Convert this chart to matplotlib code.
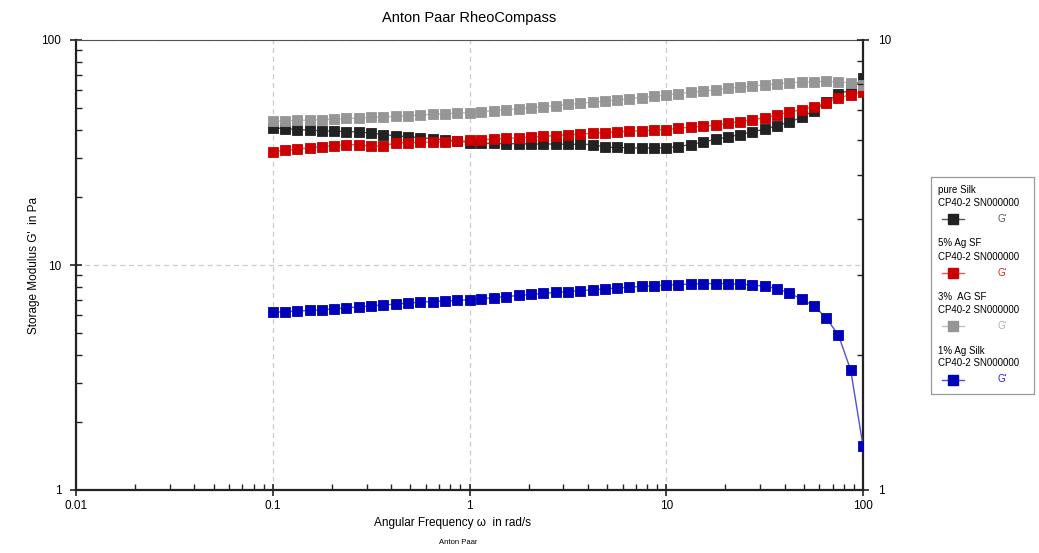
import matplotlib
matplotlib.use("Agg")
import matplotlib.pyplot as plt
from matplotlib.ticker import LogLocator, FixedLocator, FixedFormatter, NullFormatter

plt.rcParams['font.family'] = ['Liberation Sans', 'DejaVu Sans']

# Angular frequency grid (rad/s)
omega = [0.1, 0.115, 0.133, 0.154, 0.178, 0.205, 0.237, 0.274, 0.316, 0.365,
         0.422, 0.487, 0.562, 0.649, 0.750, 0.866, 1.0, 1.15, 1.33, 1.54,
         1.78, 2.05, 2.37, 2.74, 3.16, 3.65, 4.22, 4.87, 5.62, 6.49,
         7.50, 8.66, 10.0, 11.5, 13.3, 15.4, 17.8, 20.5, 23.7, 27.4,
         31.6, 36.5, 42.2, 48.7, 56.2, 64.9, 75.0, 86.6, 100.0]

# Storage modulus G' (Pa)
pure_silk = [40.7, 40.4, 40.0, 39.7, 39.5, 39.3, 39.2, 39.0, 38.6, 38.0,
             37.5, 37.2, 36.8, 36.4, 36.0, 35.5, 35.0, 34.8, 34.7, 34.6,
             34.6, 34.5, 34.5, 34.5, 34.4, 34.4, 34.3, 33.4, 33.3, 33.2,
             33.1, 33.1, 33.2, 33.6, 34.3, 35.2, 36.2, 37.0, 38.0, 39.0,
             40.2, 41.6, 43.2, 45.3, 48.5, 53.0, 57.5, 60.0, 68.0]
ag5_sf = [31.9, 32.3, 32.7, 33.2, 33.6, 33.9, 34.2, 34.3, 33.7, 33.8,
          34.9, 35.0, 35.1, 35.2, 35.3, 35.5, 35.8, 36.0, 36.3, 36.5,
          36.8, 37.0, 37.3, 37.6, 37.9, 38.2, 38.5, 38.8, 39.0, 39.3,
          39.5, 39.8, 40.0, 40.5, 41.0, 41.4, 41.8, 42.6, 43.4, 44.2,
          45.0, 46.5, 47.8, 49.0, 50.5, 52.6, 55.5, 57.0, 59.0]
ag3_sf = [43.5, 43.7, 43.9, 44.1, 44.3, 44.5, 44.8, 45.0, 45.3, 45.5,
          45.8, 46.1, 46.4, 46.7, 47.0, 47.3, 47.6, 48.0, 48.5, 49.0,
          49.5, 50.0, 50.5, 51.1, 51.7, 52.3, 52.9, 53.5, 54.1, 54.8,
          55.5, 56.2, 57.0, 57.7, 58.5, 59.3, 60.1, 60.9, 61.7, 62.4,
          63.2, 63.9, 64.5, 65.0, 65.3, 65.4, 65.2, 64.5, 63.0]
ag1_silk = [6.16, 6.20, 6.24, 6.28, 6.33, 6.38, 6.45, 6.52, 6.58, 6.64,
            6.70, 6.78, 6.84, 6.88, 6.92, 6.96, 7.00, 7.08, 7.16, 7.24,
            7.32, 7.40, 7.48, 7.55, 7.62, 7.69, 7.76, 7.83, 7.90, 7.97,
            8.03, 8.09, 8.14, 8.19, 8.23, 8.26, 8.27, 8.26, 8.22, 8.15,
            8.05, 7.86, 7.50, 7.06, 6.59, 5.83, 4.88, 3.41, 1.57]

series_names = ["pure Silk", "5% Ag SF", "3%  AG SF", "1% Ag Silk"]
series_values = [pure_silk, ag5_sf, ag3_sf, ag1_silk]
marker_colors = ["#222222", "#cc0000", "#969696", "#0000bb"]
line_colors = ["#555555", "#e06060", "#bdbdbd", "#5050e0"]
label_colors = ["#555555", "#dd2222", "#b0b0b0", "#2222cc"]
sample_id = "CP40-2 SN000000"

x_ticks = [0.01, 0.1, 1, 10, 100]
x_ticklabels = ["0.01", "0.1", "1", "10", "100"]

fig = plt.figure(figsize=(10.39, 5.53), dpi=100)
ax = fig.add_axes([76 / 1039, 1 - 490 / 553, (863 - 76) / 1039, (490 - 40) / 553])

draw_order = [2, 0, 1, 3]
for i in draw_order:
    ax.plot(omega, series_values[i], color=line_colors[i], lw=1.0,
            marker='s', ms=7.0, mfc=marker_colors[i], mec=marker_colors[i],
            mew=0.6, zorder=3 + i)

ax.set_xscale('log')
ax.set_yscale('log')
ax.set_xlim(0.01, 100)
ax.set_ylim(1, 100)

ax.xaxis.set_major_locator(FixedLocator(x_ticks))
ax.xaxis.set_major_formatter(FixedFormatter(x_ticklabels))
ax.xaxis.set_minor_locator(LogLocator(base=10, subs=range(2, 10)))
ax.xaxis.set_minor_formatter(NullFormatter())
ax.yaxis.set_major_locator(FixedLocator([1, 10, 100]))
ax.yaxis.set_major_formatter(FixedFormatter(["1", "10", "100"]))
ax.yaxis.set_minor_locator(LogLocator(base=10, subs=range(2, 10)))
ax.yaxis.set_minor_formatter(NullFormatter())

ax.tick_params(which='major', direction='inout', length=9, width=1.2,
               labelsize=8.5, color='#222222', top=False)
ax.tick_params(which='minor', direction='in', length=4, width=1.0,
               color='#222222', top=False)
ax.tick_params(axis='x', pad=3)
ax.tick_params(axis='y', pad=6)

ax.grid(True, which='major', linestyle=(0, (4, 3)), color='#cccccc', lw=0.9)

for side in ['left', 'bottom', 'right']:
    ax.spines[side].set_linewidth(1.6)
    ax.spines[side].set_color('#222222')
ax.spines['top'].set_linewidth(0.8)
ax.spines['top'].set_color('#555555')

ax2 = ax.twinx()
ax2.set_yscale('log')
ax2.set_ylim(1, 10)
ax2.yaxis.set_major_locator(FixedLocator([1, 10]))
ax2.yaxis.set_major_formatter(FixedFormatter(["1", "10"]))
ax2.yaxis.set_minor_locator(LogLocator(base=10, subs=range(2, 10)))
ax2.yaxis.set_minor_formatter(NullFormatter())
ax2.tick_params(which='major', direction='inout', length=9, width=1.2,
                labelsize=8.5, color='#222222', pad=6)
ax2.tick_params(which='minor', direction='in', length=4, width=1.0,
                color='#222222')
for sp in ax2.spines.values():
    sp.set_visible(False)

ax.set_title("Anton Paar RheoCompass", fontsize=10.5, pad=13)
ax.set_ylabel("Storage Modulus G'  in Pa", fontsize=8.5)
ax.yaxis.set_label_coords((40 - 76) / 787, 0.5)
ax.set_xlabel("Angular Frequency \u03c9  in rad/s", fontsize=8.5)
ax.xaxis.set_label_coords((452 - 76) / 787, -(517 - 490) / 450)
fig.text(458 / 1039, 1 - 543 / 553, "Anton Paar", fontsize=5.5,
         ha='center', va='center')

# Legend panel
lg = fig.add_axes([931 / 1039, 1 - 394 / 553, (1034 - 931) / 1039, (394 - 177) / 553])
lg.set_xlim(0, 103)
lg.set_ylim(217, 0)
lg.set_xticks([])
lg.set_yticks([])
for sp in lg.spines.values():
    sp.set_color('#9a9a9a')
    sp.set_linewidth(0.9)
for k, name in enumerate(series_names):
    y0 = 13 + 53.5 * k
    lg.text(7, y0, name, fontsize=7, va='center', ha='left')
    lg.text(7, y0 + 13, sample_id, fontsize=7, va='center', ha='left')
    lg.plot([11, 33], [y0 + 29, y0 + 29], color=line_colors[k], lw=1.0)
    lg.plot([22], [y0 + 29], marker='s', ms=6.5, mfc=marker_colors[k],
            mec=marker_colors[k])
    lg.text(66, y0 + 29, "G'", fontsize=7, va='center', ha='left',
            color=label_colors[k])

fig.savefig("out.png", dpi=100)
